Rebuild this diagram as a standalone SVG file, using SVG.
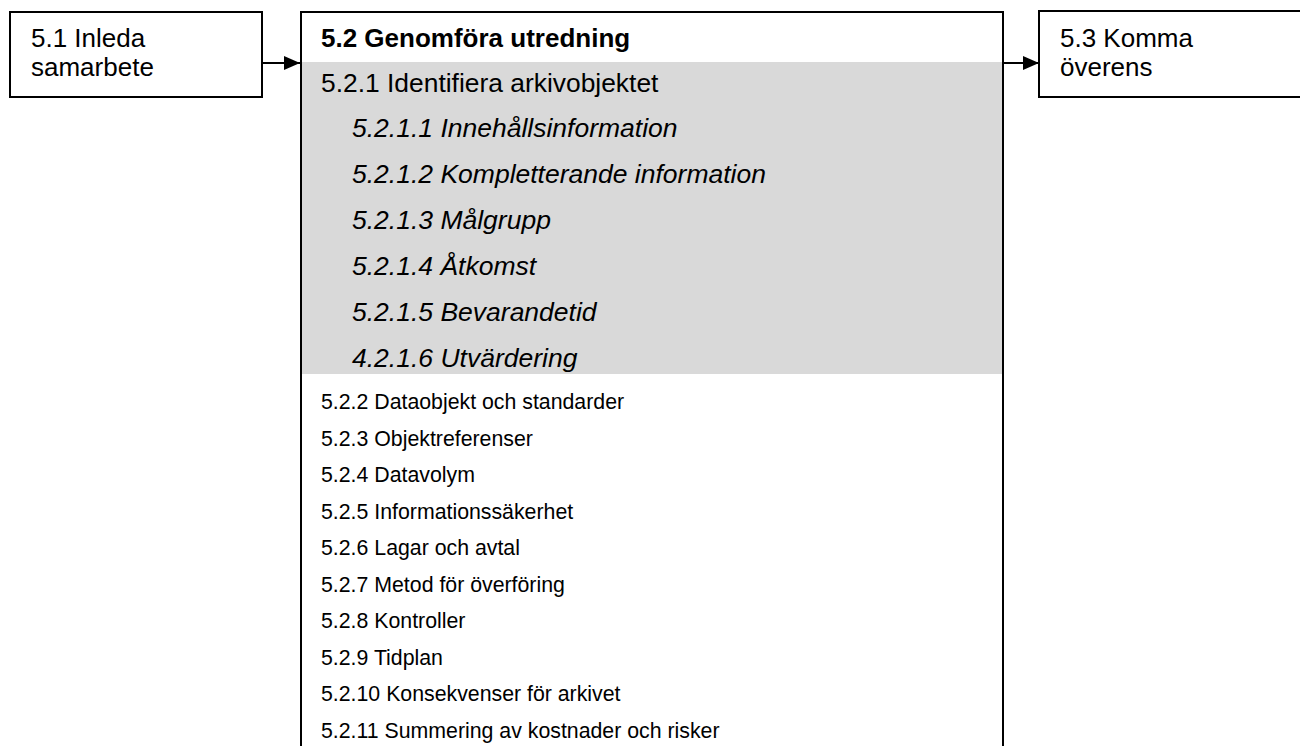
<svg xmlns="http://www.w3.org/2000/svg" width="1300" height="746" viewBox="0 0 1300 746">
  <style>
    .box { fill: #ffffff; stroke: #000000; stroke-width: 2; }
    .band { fill: #d9d9d9; stroke: none; }
    .edge { stroke: #000000; stroke-width: 2; fill: none; }
    text { font-family: "Liberation Sans", Arial, sans-serif; fill: #000000; }
    .lbl { font-size: 26px; }
    .head { font-size: 26px; font-weight: bold; }
    .sub { font-size: 26.5px; font-style: italic; }
    .item { font-size: 21.3px; }
  </style>
  <defs>
    <marker id="arrow" markerWidth="16" markerHeight="14" refX="16" refY="7" orient="auto" markerUnits="userSpaceOnUse">
      <path d="M0,0 L16,7 L0,14 Z" fill="#000000"/>
    </marker>
  </defs>

  <!-- Step 5.1 -->
  <g id="node-5-1">
    <rect class="box" x="10" y="12" width="252" height="85"/>
    <text class="lbl" x="31" y="47">5.1 Inleda</text>
    <text class="lbl" x="31" y="76">samarbete</text>
  </g>

  <!-- Step 5.2 with its sub-steps -->
  <g id="node-5-2">
    <rect class="box" x="301" y="12" width="702" height="760"/>
    <rect class="band" x="302" y="62" width="700" height="312"/>
    <text class="head" x="321" y="47">5.2 Genomföra utredning</text>
    <text class="lbl" x="321" y="92" style="font-size:26.4px">5.2.1 Identifiera arkivobjektet</text>
    <text class="sub" x="352" y="137">5.2.1.1 Innehållsinformation</text>
    <text class="sub" x="352" y="183">5.2.1.2 Kompletterande information</text>
    <text class="sub" x="352" y="229">5.2.1.3 Målgrupp</text>
    <text class="sub" x="352" y="275">5.2.1.4 Åtkomst</text>
    <text class="sub" x="352" y="321">5.2.1.5 Bevarandetid</text>
    <text class="sub" x="352" y="367">4.2.1.6 Utvärdering</text>
    <text class="item" x="321" y="409">5.2.2 Dataobjekt och standarder</text>
    <text class="item" x="321" y="445.5">5.2.3 Objektreferenser</text>
    <text class="item" x="321" y="482">5.2.4 Datavolym</text>
    <text class="item" x="321" y="518.5">5.2.5 Informationssäkerhet</text>
    <text class="item" x="321" y="555">5.2.6 Lagar och avtal</text>
    <text class="item" x="321" y="591.5">5.2.7 Metod för överföring</text>
    <text class="item" x="321" y="628">5.2.8 Kontroller</text>
    <text class="item" x="321" y="664.5">5.2.9 Tidplan</text>
    <text class="item" x="321" y="701">5.2.10 Konsekvenser för arkivet</text>
    <text class="item" x="321" y="737.5">5.2.11 Summering av kostnader och risker</text>
  </g>

  <!-- Step 5.3 -->
  <g id="node-5-3">
    <rect class="box" x="1039" y="11" width="300" height="86"/>
    <text class="lbl" x="1060" y="47">5.3 Komma</text>
    <text class="lbl" x="1060" y="76">överens</text>
  </g>

  <!-- Connectors -->
  <g id="connectors">
    <line class="edge" x1="262" y1="63" x2="300" y2="63" marker-end="url(#arrow)"/>
    <line class="edge" x1="1003" y1="63" x2="1039" y2="63" marker-end="url(#arrow)"/>
  </g>
</svg>
